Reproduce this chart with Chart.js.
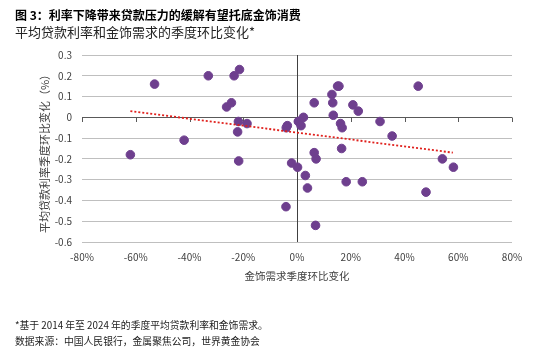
<!DOCTYPE html>
<html>
<head>
<meta charset="utf-8">
<script src="https://cdn.jsdelivr.net/npm/chart.js@4.4.1/dist/chart.umd.min.js"></script>
<style>
  html,body{margin:0;padding:0;background:#fff;}
  #wrap{position:relative;width:550px;height:354px;overflow:hidden;font-family:"Noto Sans CJK SC","Noto Sans",sans-serif;}
  canvas{position:absolute;left:0;top:0;}
  .t{position:absolute;left:15px;white-space:nowrap;color:#000;}
  #title{top:6px;font-size:12px;font-weight:bold;}
  #sub{top:22px;font-size:13px;color:#222;}
  #fn1{top:318px;font-size:9.8px;color:#222;}
  #fn2{top:334px;font-size:9.8px;color:#222;}
</style>
</head>
<body>
<div id="wrap">
  <canvas id="c" width="550" height="354"></canvas>
  <div class="t" id="title">图 3：利率下降带来贷款压力的缓解有望托底金饰消费</div>
  <div class="t" id="sub">平均贷款利率和金饰需求的季度环比变化*</div>
  <div class="t" id="fn1">*基于 2014 年至 2024 年的季度平均贷款利率和金饰需求。</div>
  <div class="t" id="fn2">数据来源：中国人民银行，金属聚焦公司，世界黄金协会</div>
</div>
<script>
// Jewellery demand q/q change (%)
const demandChange = [-62, -53, -42, -33, -23.4, -21.4, -26.2, -24.4, -21.8, -18.6, -22.1, -21.7,
  -3.6, -4.0, -2.0, 0.2, -4.1, 0.5, 0.7, 2.4, 1.5, 3.1, 3.9, 6.4, 6.4, 7.1, 6.9,
  13.0, 15.1, 15.6, 13.3, 13.5, 16.2, 16.8, 16.6, 18.3, 20.8, 22.8, 24.3, 30.9, 35.4, 45.1, 48.0, 54.1, 58.2];
// Average loan rate q/q change (pp)
const rateChange = [-0.18, 0.16, -0.11, 0.20, 0.20, 0.23, 0.05, 0.07, -0.02, -0.03, -0.07, -0.21,
  -0.04, -0.05, -0.22, -0.24, -0.43, -0.02, -0.02, 0.00, -0.04, -0.28, -0.34, 0.07, -0.17, -0.20, -0.52,
  0.11, 0.15, 0.15, 0.07, 0.01, -0.03, -0.05, -0.15, -0.31, 0.06, 0.03, -0.31, -0.02, -0.09, 0.15, -0.36, -0.20, -0.24];
// Trend line endpoints
const trendX = [-62, 58];
const trendY = [0.03, -0.17];
const xTicks = [-80, -60, -40, -20, 0, 20, 40, 60, 80];
const yTicks = [0.3, 0.2, 0.1, 0, -0.1, -0.2, -0.3, -0.4, -0.5, -0.6];
const xTitle = '金饰需求季度环比变化';
const yTitle = '平均贷款利率季度环比变化（%）';

const pts = demandChange.map((x, i) => ({x: x, y: rateChange[i]}));
const trend = trendX.map((x, i) => ({x: x, y: trendY[i]}));

const FONT = '"Noto Sans CJK SC","Noto Sans",sans-serif';

const overlay = {
  id: 'overlay',
  beforeDatasetsDraw(chart) {
    const ctx = chart.ctx, xs = chart.scales.x, ys = chart.scales.y;
    const y0 = ys.getPixelForValue(0);
    ctx.save();
    ctx.strokeStyle = '#595959';
    ctx.lineWidth = 1;
    ctx.beginPath();
    ctx.moveTo(xs.left, Math.round(y0) + 0.5);
    ctx.lineTo(xs.right, Math.round(y0) + 0.5);
    ctx.stroke();
    xTicks.forEach(v => {
      const px = Math.round(xs.getPixelForValue(v)) + 0.5;
      ctx.beginPath();
      ctx.moveTo(px, Math.round(y0) + 0.5);
      ctx.lineTo(px, Math.round(y0) + 5);
      ctx.stroke();
    });
    const x0 = Math.round(xs.getPixelForValue(0)) + 0.5;
    ctx.strokeStyle = '#404040';
    ctx.beginPath();
    ctx.moveTo(x0, ys.top);
    ctx.lineTo(x0, ys.bottom);
    ctx.stroke();
    ctx.restore();
  },
  afterDraw(chart) {
    const ctx = chart.ctx, xs = chart.scales.x, ys = chart.scales.y;
    ctx.save();
    ctx.fillStyle = '#404040';
    ctx.textAlign = 'center';
    ctx.textBaseline = 'middle';
    ctx.font = '10px ' + FONT;
    xTicks.forEach(v => {
      ctx.fillText(v + '%', xs.getPixelForValue(v), 257);
    });
    ctx.font = '10.5px ' + FONT;
    ctx.fillText(xTitle, xs.getPixelForValue(0), 276);
    ctx.font = '11px ' + FONT;
    ctx.translate(45, 151);
    ctx.rotate(-Math.PI / 2);
    ctx.fillText(yTitle, 0, 0);
    ctx.restore();
  }
};

new Chart(document.getElementById('c'), {
  type: 'scatter',
  data: {
    datasets: [
      {
        label: 'data',
        data: pts,
        backgroundColor: '#6e3f8e',
        borderColor: '#6e3f8e',
        pointRadius: 4.3,
        pointHoverRadius: 4.3,
        order: 2
      },
      {
        label: 'trend',
        type: 'line',
        data: trend,
        borderColor: '#e0201c',
        borderWidth: 1.8,
        borderDash: [2, 2],
        pointRadius: 0,
        fill: false,
        order: 1
      }
    ]
  },
  options: {
    responsive: false,
    animation: false,
    events: [],
    layout: {padding: {left: 0, top: 55, right: 38, bottom: 92}},
    plugins: {legend: {display: false}, tooltip: {enabled: false}},
    scales: {
      x: {
        type: 'linear',
        min: -80, max: 80,
        afterBuildTicks: s => { s.ticks = xTicks.map(v => ({value: v})); },
        afterFit: s => { s.height = 20; },
        border: {display: false},
        grid: {display: false},
        ticks: {display: false}
      },
      y: {
        min: -0.6, max: 0.3,
        afterBuildTicks: s => { s.ticks = yTicks.map(v => ({value: v})); },
        afterFit: s => { s.width = 82; },
        border: {display: false},
        grid: {
          color: ctx => Math.abs(ctx.tick.value) < 1e-9 ? 'rgba(0,0,0,0)' : '#bfbfbf',
          lineWidth: 1,
          drawTicks: false
        },
        ticks: {
          padding: 10,
          color: '#404040',
          font: {family: FONT, size: 10},
          callback: v => {
            const r = Math.round(v * 10) / 10;
            return r === 0 ? '0' : r.toFixed(1);
          }
        }
      }
    }
  },
  plugins: [overlay]
});
</script>
</body>
</html>
